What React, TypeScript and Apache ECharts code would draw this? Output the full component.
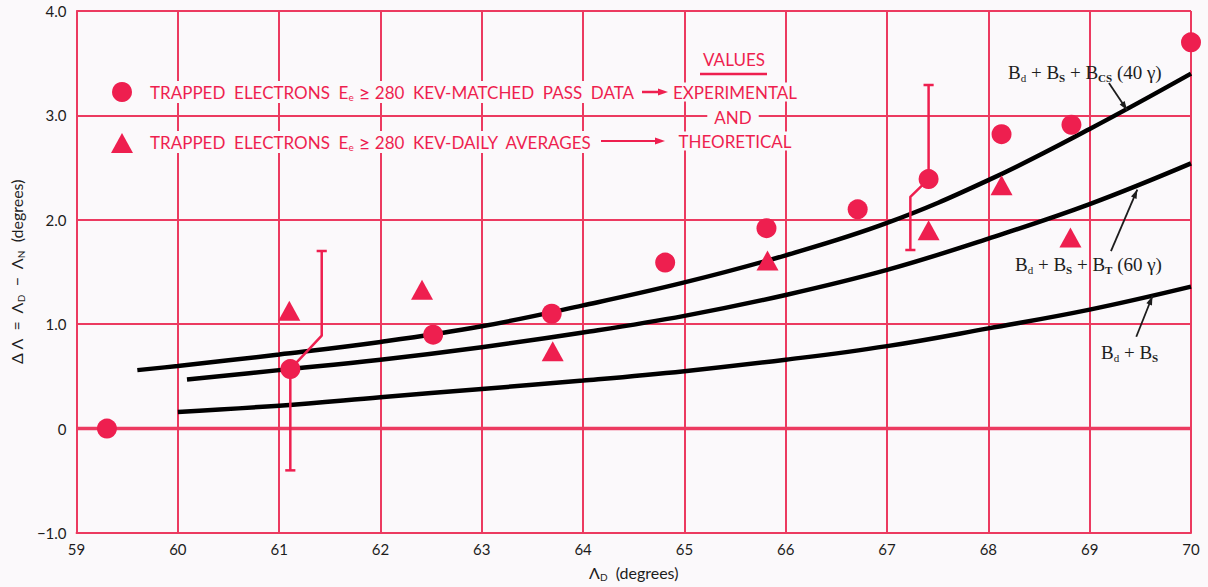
import React, { useEffect, useRef } from "react";
import * as echarts from "echarts";

const X_MIN = 59;
const X_MAX = 70;
const Y_MIN = -1;
const Y_MAX = 4;

// Experimental: trapped electrons Ee >= 280 keV, matched pass data
const matchedPass: [number, number][] = [
  [59.3, 0.0],
  [61.11, 0.57],
  [62.52, 0.9],
  [63.69, 1.1],
  [64.81, 1.59],
  [65.81, 1.92],
  [66.71, 2.1],
  [67.41, 2.39],
  [68.13, 2.82],
  [68.82, 2.91],
  [70.0, 3.7],
];

// Trapped electrons Ee >= 280 keV, daily averages
const dailyAverages: [number, number][] = [
  [61.1, 1.13],
  [62.41, 1.33],
  [63.7, 0.74],
  [65.82, 1.61],
  [67.41, 1.9],
  [68.13, 2.33],
  [68.81, 1.83],
];

// Theoretical curves
const curveCS40: [number, number][] = [
  [59.6, 0.56], [60, 0.6], [61, 0.71], [62, 0.83], [63, 0.98], [64, 1.18],
  [65, 1.4], [66, 1.66], [67, 1.97], [68, 2.38], [69, 2.87], [70, 3.4],
];
const curveT60: [number, number][] = [
  [60.09, 0.47], [61, 0.56], [62, 0.66], [63, 0.78], [64, 0.92], [65, 1.08],
  [66, 1.28], [67, 1.52], [68, 1.82], [69, 2.15], [70, 2.54],
];
const curveBdBs: [number, number][] = [
  [60, 0.16], [61, 0.22], [62, 0.3], [63, 0.38], [64, 0.46], [65, 0.55],
  [66, 0.66], [67, 0.79], [68, 0.96], [69, 1.14], [70, 1.36],
];

// Error bars (drawn as bent paths)
const errorPathA: [number, number][] = [
  [61.11, -0.4], [61.11, 0.57], [61.42, 0.89], [61.42, 1.7],
];
const errorPathB: [number, number][] = [
  [67.23, 1.71], [67.23, 2.22], [67.41, 2.39], [67.41, 3.29],
];
const CAP_HALF = 0.05;

// Curve-label arrows (tail -> head, data coordinates)
const curveArrows: { from: [number, number]; to: [number, number] }[] = [
  { from: [69.19, 3.31], to: [69.37, 3.05] },
  { from: [69.21, 1.7], to: [69.47, 2.29] },
  { from: [69.46, 0.88], to: [69.62, 1.27] },
];

const RED = "#EE1F4F";
const GRID = "#EC3A60";
const BG = "#FBF9FB";
const INK = "#1d1d1d";
const SANS = "Lato, 'Noto Sans', sans-serif";
const SERIF = "'Liberation Serif', 'DejaVu Serif', serif";

function head(x1: number, y1: number, x2: number, y2: number, len: number, half: number) {
  const dx = x2 - x1;
  const dy = y2 - y1;
  const d = Math.sqrt(dx * dx + dy * dy) || 1;
  const ux = dx / d;
  const uy = dy / d;
  const bx = x2 - ux * len;
  const by = y2 - uy * len;
  return [
    [x2, y2],
    [bx - uy * half, by + ux * half],
    [bx + uy * half, by - ux * half],
  ];
}

function capSeries(p: [number, number]) {
  return {
    type: "line",
    data: [
      [p[0] - CAP_HALF, p[1]],
      [p[0] + CAP_HALF, p[1]],
    ],
    symbol: "none",
    silent: true,
    lineStyle: { color: RED, width: 2.5 },
    z: 4,
  };
}

export default function App() {
  const ref = useRef<HTMLDivElement>(null);

  useEffect(() => {
    document.body.style.margin = "0";
    document.body.style.background = BG;
    if (!ref.current) return;
    const chart = echarts.init(ref.current, undefined, { renderer: "svg" });

    const errLine = (data: [number, number][]) => ({
      type: "line",
      data,
      symbol: "none",
      silent: true,
      lineStyle: { color: RED, width: 2.5 },
      z: 4,
    });
    const curve = (name: string, data: [number, number][]) => ({
      type: "line",
      name,
      data,
      smooth: 0.4,
      symbol: "none",
      silent: true,
      lineStyle: { color: "#000", width: 4.5 },
      z: 3,
    });

    const axisRich = {
      n: { fontSize: 16, fontFamily: SANS, color: INK, lineHeight: 20 },
      s: { fontSize: 10, fontFamily: SANS, color: INK, verticalAlign: "bottom", lineHeight: 13 },
    };

    const option: any = {
      animation: false,
      backgroundColor: BG,
      grid: { left: 72, right: 17, top: 11, bottom: 51 },
      xAxis: {
        type: "value",
        min: X_MIN,
        max: X_MAX,
        interval: 1,
        axisLine: { show: true, onZero: false, lineStyle: { color: GRID, width: 2 } },
        axisTick: { show: false },
        splitLine: { show: true, lineStyle: { color: GRID, width: 2 } },
        axisLabel: { color: INK, fontSize: 15, fontFamily: SANS, margin: 8 },
        name: "{n|Λ}{s|D}{n|  (degrees)}",
        nameLocation: "middle",
        nameGap: 29,
        nameTextStyle: { rich: axisRich },
      },
      yAxis: {
        type: "value",
        min: Y_MIN,
        max: Y_MAX,
        interval: 1,
        axisLine: { show: true, onZero: false, lineStyle: { color: GRID, width: 2 } },
        axisTick: { show: false },
        splitLine: { show: true, lineStyle: { color: GRID, width: 2 } },
        axisLabel: {
          color: INK,
          fontSize: 15,
          fontFamily: SANS,
          margin: 10,
          formatter: (v: number) =>
            v === 0 ? "0" : v < 0 ? "\u2212" + Math.abs(v).toFixed(1) : v.toFixed(1),
        },
        name: "{n|Δ Λ  =  Λ}{s|D}{n|  −  Λ}{s|N}{n|  (degrees)}",
        nameLocation: "middle",
        nameGap: 45,
        nameRotate: 90,
        nameTextStyle: { rich: axisRich },
      },
      series: [
        {
          type: "line",
          data: [
            [X_MIN, 0],
            [X_MAX, 0],
          ],
          symbol: "none",
          silent: true,
          lineStyle: { color: GRID, width: 3.5 },
          z: 1,
        },
        curve("Bd + Bs + Bcs (40 γ)", curveCS40),
        curve("Bd + Bs + BT (60 γ)", curveT60),
        curve("Bd + Bs", curveBdBs),
        errLine(errorPathA),
        errLine(errorPathB),
        capSeries(errorPathA[0]),
        capSeries(errorPathA[errorPathA.length - 1]),
        capSeries(errorPathB[0]),
        capSeries(errorPathB[errorPathB.length - 1]),
        {
          type: "scatter",
          name: "Matched pass data",
          data: matchedPass,
          symbol: "circle",
          symbolSize: 20,
          itemStyle: { color: RED, opacity: 1 },
          z: 5,
        },
        {
          type: "scatter",
          name: "Daily averages",
          data: dailyAverages,
          symbol: "triangle",
          symbolSize: [22, 20],
          itemStyle: { color: RED, opacity: 1 },
          z: 5,
        },
      ],
    };
    chart.setOption(option);

    const toPx = (p: [number, number]) =>
      chart.convertToPixel({ gridIndex: 0 }, p) as number[];

    const legendRich = {
      a: { fontSize: 17, fontFamily: SANS, fill: RED, lineHeight: 20 },
      g: { fontSize: 20, fontFamily: SANS, fill: RED, lineHeight: 20 },
      s: { fontSize: 10, fontFamily: SANS, fill: RED, verticalAlign: "bottom", lineHeight: 13 },
    };
    const labelRich = {
      b: { fontSize: 19, fontFamily: SERIF, fill: INK, lineHeight: 22 },
      d: { fontSize: 11, fontFamily: SERIF, fill: INK, verticalAlign: "bottom", lineHeight: 15 },
      S: { fontSize: 11, fontFamily: SERIF, fontWeight: "bold", fill: INK, verticalAlign: "bottom", lineHeight: 15 },
    };

    const redText = (text: string, x: number, y: number, align: string, bgPad = [1, 4]) => ({
      type: "text",
      x,
      y,
      z: 20,
      style: {
        text,
        fontSize: 17,
        fontFamily: SANS,
        fill: RED,
        align,
        verticalAlign: "middle",
        backgroundColor: BG,
        padding: bgPad,
      },
    });

    const graphics: any[] = [
      // legend markers
      { type: "circle", z: 20, shape: { cx: 122, cy: 92, r: 10 }, style: { fill: RED } },
      {
        type: "polygon",
        z: 20,
        shape: { points: [[111, 153], [133, 153], [122, 133]] },
        style: { fill: RED },
      },
      {
        type: "text",
        x: 146,
        y: 92,
        z: 20,
        style: {
          text: "{a|TRAPPED  ELECTRONS  E}{s|e}{g| ≥}{a| 280  KEV-MATCHED  PASS  DATA}",
          rich: legendRich,
          verticalAlign: "middle",
          backgroundColor: BG,
          padding: [1, 4],
        },
      },
      {
        type: "text",
        x: 146,
        y: 142,
        z: 20,
        style: {
          text: "{a|TRAPPED  ELECTRONS  E}{s|e}{g| ≥}{a| 280  KEV-DAILY  AVERAGES}",
          rich: legendRich,
          verticalAlign: "middle",
          backgroundColor: BG,
          padding: [1, 4],
        },
      },
      // arrows in legend
      { type: "line", z: 20, shape: { x1: 642, y1: 92, x2: 660, y2: 92 }, style: { stroke: RED, lineWidth: 2.5 } },
      { type: "polygon", z: 20, shape: { points: head(642, 92, 668, 92, 10, 3.5) }, style: { fill: RED } },
      { type: "line", z: 20, shape: { x1: 601, y1: 141, x2: 657, y2: 141 }, style: { stroke: RED, lineWidth: 2 } },
      { type: "polygon", z: 20, shape: { points: head(601, 141, 665, 141, 10, 3.5) }, style: { fill: RED } },
      redText("VALUES", 734, 59, "center", [0, 1]),
      { type: "line", z: 21, shape: { x1: 700, y1: 74, x2: 767, y2: 74 }, style: { stroke: RED, lineWidth: 2.5 } },
      redText("EXPERIMENTAL", 735, 92, "center", [1, 2]),
      redText("AND", 733, 117, "center", [1, 7]),
      redText("THEORETICAL", 735, 141, "center", [1, 2]),
      // curve labels
      {
        type: "text",
        x: 1008,
        y: 72,
        z: 20,
        style: {
          text: "{b|B}{d|d}{b| + B}{S|S}{b| + B}{S|CS}{b| (40 γ)}",
          rich: labelRich,
          verticalAlign: "middle",
        },
      },
      {
        type: "text",
        x: 1015,
        y: 264,
        z: 20,
        style: {
          text: "{b|B}{d|d}{b| + B}{S|S}{b| + B}{S|T}{b| (60 γ)}",
          rich: labelRich,
          verticalAlign: "middle",
        },
      },
      {
        type: "text",
        x: 1101,
        y: 352,
        z: 20,
        style: {
          text: "{b|B}{d|d}{b| + B}{S|S}",
          rich: labelRich,
          verticalAlign: "middle",
        },
      },
    ];

    curveArrows.forEach((a) => {
      const p1 = toPx(a.from);
      const p2 = toPx(a.to);
      graphics.push({
        type: "line",
        z: 20,
        shape: { x1: p1[0], y1: p1[1], x2: p2[0], y2: p2[1] },
        style: { stroke: INK, lineWidth: 1.8 },
      });
      graphics.push({
        type: "polygon",
        z: 20,
        shape: { points: head(p1[0], p1[1], p2[0], p2[1], 9, 3) },
        style: { fill: INK },
      });
    });

    chart.setOption({ graphic: graphics });

    return () => {
      chart.dispose();
    };
  }, []);

  return <div ref={ref} style={{ width: 1208, height: 587 }} />;
}
